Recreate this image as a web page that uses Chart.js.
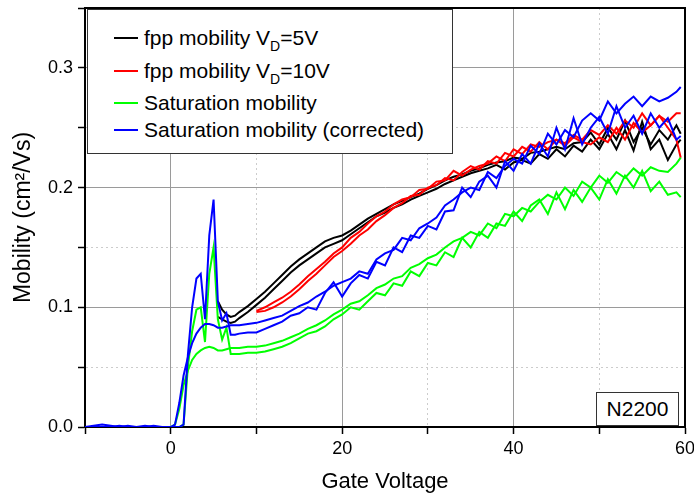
<!DOCTYPE html>
<html>
<head>
<meta charset="utf-8">
<title>N2200 mobility vs gate voltage</title>
<script src="https://cdn.jsdelivr.net/npm/chart.js@4.4.1/dist/chart.umd.min.js"></script>
<style>
  html, body { margin: 0; padding: 0; background: #fff; }
  #wrap { position: relative; width: 694px; height: 497px; overflow: hidden; font-family: "Liberation Sans", Arial, sans-serif; color: #000; }
  #plot { position: absolute; left: 0; top: 0; }
  #legend { position: absolute; left: 87px; top: 9px; width: 366px; height: 145px; border: 1px solid #333; background: #fff; box-sizing: border-box; }
  .row { position: absolute; left: 0; height: 24px; font-size: 21px; line-height: 24px; white-space: nowrap; }
  .row .swatch { position: absolute; left: 26px; top: 11px; width: 24px; height: 2px; }
  .row .label { position: absolute; left: 56px; top: 0; }
  .row sub { font-size: 14px; vertical-align: -6px; line-height: 0; }
  #tag { position: absolute; left: 596px; top: 392px; width: 83px; height: 34px; border: 1px solid #333; background: #fff; box-sizing: border-box; font-size: 21px; line-height: 32px; text-align: center; }
</style>
</head>
<body>
<div id="wrap">
  <canvas id="plot" width="694" height="497"></canvas>
  <div id="legend">
    <div class="row" style="top:16px"><span class="swatch" style="background:#000000"></span><span class="label">fpp mobility V<sub>D</sub>=5V</span></div>
    <div class="row" style="top:49px"><span class="swatch" style="background:#ff0000"></span><span class="label">fpp mobility V<sub>D</sub>=10V</span></div>
    <div class="row" style="top:81px"><span class="swatch" style="background:#00ff00"></span><span class="label">Saturation mobility</span></div>
    <div class="row" style="top:108px"><span class="swatch" style="background:#0000ff"></span><span class="label">Saturation mobility (corrected)</span></div>
  </div>
  <div id="tag">N2200</div>
</div>
<script>
// Gate voltage sweep points (V) for the saturation-mobility curves
const gateSat = [-10,-9,-8,-7,-6,-5,-4,-3,-2,-1,0,
  0.5,1,1.5,2,2.5,3,3.5,4,4.5,5,5.5,6,6.5,7,7.5,8,
  9,10,11,12,13,14,15,16,17,18,19,20,21,22,23,24,25,26,27,28,29,30,31,32,33,34,
  35,36,37,38,39,40,41,42,43,44,45,46,47,48,49,50,51,52,53,54,55,56,57,58,59,59.5];

// Gate voltage points for the four-point-probe curves
const gateFpp5 = [5.5,6,6.5,7,7.5,8,
  9,10,11,12,13,14,15,16,17,18,19,20,21,22,23,24,25,26,27,28,29,30,31,32,33,34,
  35,36,37,38,39,40,41,42,43,44,45,46,47,48,49,50,51,52,53,54,55,56,57,58,59,59.5];
const gateFpp10 = [10,11,12,13,14,15,16,17,18,19,20,21,22,23,24,25,26,27,28,29,30,31,32,33,34,
  35,36,37,38,39,40,41,42,43,44,45,46,47,48,49,50,51,52,53,54,55,56,57,58,59,59.5];

// Mobility (cm^2/Vs), forward and reverse sweeps
const fpp5Up = [0.105,0.098,0.094,0.092,0.093,0.096,
  0.101,0.107,0.113,0.120,0.127,0.134,0.140,0.145,0.150,0.155,0.158,0.160,0.164,0.169,0.174,0.178,0.182,0.186,0.189,0.192,
  0.195,0.199,0.202,0.206,0.209,0.211,0.214,0.216,0.219,0.221,0.222,0.225,0.224,0.229,0.230,0.232,0.234,0.232,0.237,0.238,
  0.246,0.236,0.250,0.240,0.256,0.238,0.250,0.236,0.248,0.240,0.252,0.245];
const fpp5Down = [0.092,0.090,0.088,0.087,0.088,0.091,
  0.096,0.102,0.108,0.115,0.122,0.129,0.135,0.140,0.145,0.150,0.153,0.156,0.161,0.166,0.171,0.176,0.179,0.183,0.186,0.190,
  0.193,0.196,0.199,0.203,0.206,0.209,0.212,0.214,0.216,0.219,0.215,0.221,0.223,0.220,0.228,0.224,0.232,0.226,0.235,0.230,
  0.240,0.232,0.245,0.232,0.248,0.231,0.255,0.232,0.240,0.223,0.236,0.240];

const fpp10Up = [0.097,0.100,0.104,0.108,0.113,0.119,0.126,0.132,0.138,0.145,0.150,0.158,0.163,0.170,0.176,0.180,
  0.186,0.190,0.192,0.198,0.199,0.205,0.206,0.214,0.210,0.215,0.218,0.220,0.226,0.222,0.232,0.228,0.236,0.234,0.238,
  0.240,0.237,0.244,0.240,0.248,0.244,0.252,0.245,0.256,0.250,0.262,0.252,0.260,0.255,0.262,0.262];
const fpp10Down = [0.096,0.097,0.100,0.104,0.109,0.115,0.122,0.128,0.135,0.142,0.147,0.153,0.160,0.165,0.172,0.177,
  0.183,0.187,0.193,0.194,0.200,0.202,0.208,0.206,0.213,0.218,0.215,0.222,0.220,0.229,0.226,0.234,0.230,0.238,0.232,
  0.240,0.235,0.242,0.238,0.236,0.242,0.238,0.250,0.240,0.254,0.246,0.252,0.260,0.250,0.240,0.225];

const satUp = [0,0,0,0,0,0,0,0,0,0,0,
  0,0,0.002,0.050,0.080,0.098,0.100,0.071,0.128,0.150,0.090,0.073,0.083,0.061,0.061,0.061,
  0.062,0.062,0.063,0.065,0.067,0.070,0.074,0.078,0.080,0.084,0.090,0.094,0.100,0.098,0.105,0.112,0.110,0.120,0.118,0.130,
  0.126,0.137,0.135,0.146,0.142,0.158,0.150,0.163,0.158,0.170,0.168,0.180,0.172,0.185,0.190,0.178,0.196,0.182,0.198,0.188,
  0.200,0.190,0.207,0.195,0.210,0.200,0.214,0.197,0.205,0.194,0.196,0.192];
const satDown = [0,0,0,0,0,0,0,0,0,0,0,
  0.002,0.015,0.035,0.047,0.056,0.061,0.064,0.066,0.067,0.066,0.064,0.064,0.065,0.066,0.066,0.066,
  0.067,0.067,0.068,0.070,0.072,0.075,0.078,0.082,0.085,0.089,0.094,0.098,0.103,0.105,0.110,0.116,0.119,0.124,0.126,0.133,
  0.136,0.141,0.144,0.150,0.155,0.158,0.163,0.160,0.170,0.166,0.178,0.176,0.183,0.180,0.188,0.194,0.190,0.200,0.193,0.205,
  0.200,0.210,0.204,0.213,0.208,0.216,0.210,0.217,0.214,0.213,0.220,0.225];

const satCorrUp = [0,0.001,0.002,0.001,0,0.001,0,0.001,0,0,0,
  0,0,0.002,0.060,0.100,0.124,0.128,0.090,0.160,0.190,0.105,0.089,0.095,0.077,0.077,0.078,
  0.079,0.079,0.082,0.085,0.088,0.093,0.095,0.100,0.098,0.112,0.121,0.109,0.120,0.127,0.124,0.138,0.135,0.150,0.146,0.160,
  0.158,0.168,0.165,0.180,0.181,0.200,0.192,0.205,0.210,0.200,0.222,0.214,0.228,0.220,0.237,0.226,0.250,0.232,0.258,0.236,
  0.250,0.259,0.245,0.268,0.250,0.260,0.245,0.262,0.250,0.258,0.240,0.243];
const satCorrDown = [0,0,0,0,0.001,0,0,0,0.001,0,0,
  0.002,0.020,0.043,0.058,0.070,0.078,0.083,0.086,0.086,0.085,0.083,0.083,0.084,0.085,0.085,0.085,
  0.086,0.087,0.089,0.091,0.093,0.097,0.101,0.104,0.109,0.113,0.118,0.121,0.124,0.130,0.128,0.140,0.145,0.148,0.158,0.156,
  0.166,0.170,0.175,0.185,0.190,0.196,0.200,0.198,0.213,0.208,0.218,0.224,0.220,0.235,0.228,0.245,0.236,0.248,0.242,0.256,
  0.262,0.256,0.272,0.262,0.270,0.276,0.268,0.276,0.272,0.275,0.280,0.284];

// Axis tick positions
const xTicks = [-10, 0, 10, 20, 30, 40, 50, 60];
const xLabelled = [0, 20, 40, 60];
const yLabelled = [0.0, 0.1, 0.2, 0.3];

const FONT = '"Liberation Sans", Arial, sans-serif';
Chart.defaults.font.family = FONT;
Chart.defaults.color = '#000';

const toPoints = (xs, ys) => xs.map((x, i) => ({ x: x, y: ys[i] }));

function series(xs, ys, color, order) {
  return {
    data: toPoints(xs, ys),
    borderColor: color,
    backgroundColor: color,
    borderWidth: 2,
    pointRadius: 0,
    tension: 0,
    fill: false,
    order: order
  };
}

const datasets = [
  series(gateFpp5, fpp5Up, '#000000', 4),
  series(gateFpp5, fpp5Down, '#000000', 4),
  series(gateFpp10, fpp10Up, '#ff0000', 3),
  series(gateFpp10, fpp10Down, '#ff0000', 3),
  series(gateSat, satUp, '#00ff00', 2),
  series(gateSat, satDown, '#00ff00', 2),
  series(gateSat, satCorrUp, '#0000ff', 1),
  series(gateSat, satCorrDown, '#0000ff', 1)
];

const near = (a, b) => Math.abs(a - b) < 1e-6;
const xMajor = v => xLabelled.some(t => near(t, v));
const yMajor = v => yLabelled.some(t => near(t, v));

// Black frame along the top and right edges of the plot area
const frame = {
  id: 'frame',
  afterDatasetsDraw(chart) {
    const { ctx, chartArea: a } = chart;
    ctx.save();
    ctx.strokeStyle = '#000';
    ctx.lineWidth = 2;
    ctx.beginPath();
    ctx.moveTo(a.left, a.top);
    ctx.lineTo(a.right, a.top);
    ctx.lineTo(a.right, a.bottom);
    ctx.stroke();
    ctx.restore();
  }
};

new Chart(document.getElementById('plot'), {
  type: 'line',
  data: { datasets },
  options: {
    responsive: false,
    animation: false,
    devicePixelRatio: 1,
    layout: { padding: { left: 0, top: 8, right: 9, bottom: 0 } },
    plugins: { legend: { display: false }, tooltip: { enabled: false } },
    scales: {
      x: {
        type: 'linear',
        min: -10,
        max: 60,
        afterBuildTicks: s => { s.ticks = xTicks.map(v => ({ value: v })); },
        afterFit: s => { s.height = 70; s.paddingLeft = 0; s.paddingRight = 0; },
        ticks: {
          autoSkip: false,
          maxRotation: 0,
          padding: 4,
          color: '#000',
          font: { size: 18 },
          callback: v => (xMajor(v) ? String(v) : '')
        },
        grid: {
          lineWidth: 1,
          color: c => {
            const v = c.tick ? c.tick.value : null;
            if (v === null || near(v, -10) || near(v, 60)) return 'rgba(0,0,0,0)';
            return xMajor(v) ? '#9a9a9a' : '#cccccc';
          },
          tickColor: '#000',
          tickLength: 7,
          tickWidth: 1.5
        },
        border: {
          display: true,
          color: '#000',
          width: 2,
          dash: c => (c.tick && !xMajor(c.tick.value) ? [2, 3] : [])
        },
        title: {
          display: true,
          text: 'Gate Voltage',
          color: '#000',
          font: { size: 22 },
          padding: { top: 0, bottom: 2 }
        }
      },
      y: {
        type: 'linear',
        min: 0,
        max: 0.35,
        afterFit: s => { s.width = 85; s.paddingTop = 0; s.paddingBottom = 0; },
        ticks: {
          stepSize: 0.05,
          autoSkip: false,
          padding: 5,
          color: '#000',
          font: { size: 18 },
          callback: v => (yMajor(v) ? v.toFixed(1) : '')
        },
        grid: {
          lineWidth: 1,
          color: c => {
            const v = c.tick ? c.tick.value : null;
            if (v === null || near(v, 0) || near(v, 0.35)) return 'rgba(0,0,0,0)';
            return yMajor(v) ? '#9a9a9a' : '#cccccc';
          },
          tickColor: '#000',
          tickLength: 7,
          tickWidth: 1.5
        },
        border: {
          display: true,
          color: '#000',
          width: 2,
          dash: c => (c.tick && !yMajor(c.tick.value) ? [2, 3] : [])
        },
        title: {
          display: true,
          text: 'Mobility (cm²/Vs)',
          color: '#000',
          font: { size: 23 },
          padding: { top: 10, bottom: 0 }
        }
      }
    }
  },
  plugins: [frame]
});
</script>
</body>
</html>
